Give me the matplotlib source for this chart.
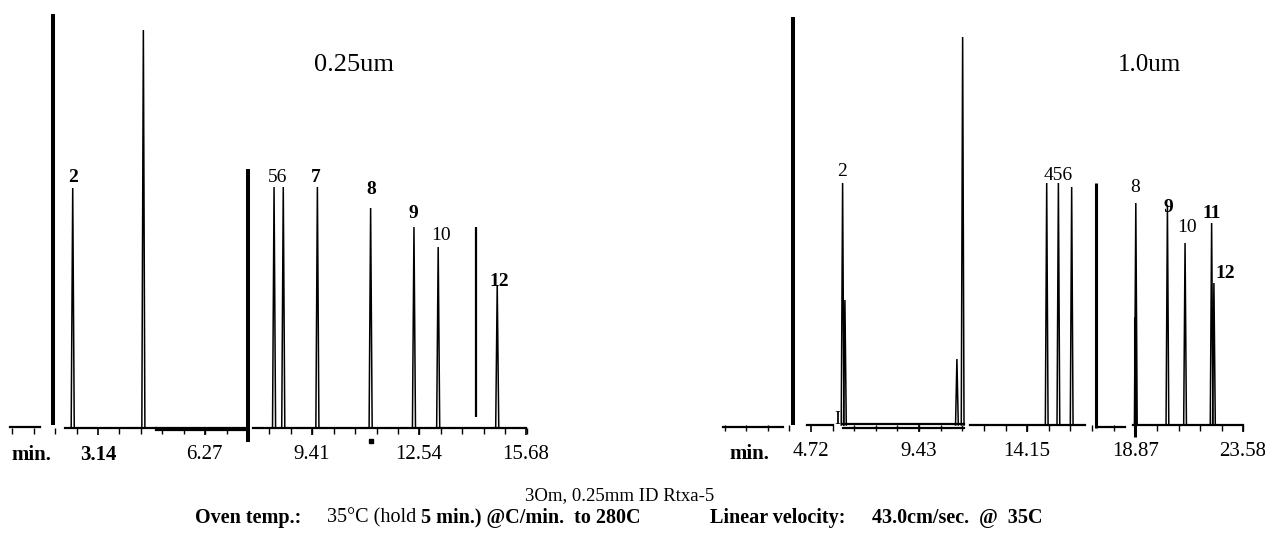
import matplotlib
matplotlib.use("Agg")
import matplotlib.pyplot as plt
import numpy as np

plt.rcParams["font.family"] = ["Liberation Serif", "DejaVu Serif"]

# ---------------------------------------------------------------------------
# DATA  (retention time in min, relative response)
# ---------------------------------------------------------------------------

# 0.25um film
L_PEAK_T = [2.40, 4.47, 8.30, 8.57, 9.57, 11.13, 12.40, 13.11, 14.84]
L_PEAK_H = [60.0, 99.5, 60.25, 60.25, 60.25, 55.0, 50.25, 45.25, 35.75]
L_LABELS = ["2", "56", "7", "8", "9", "10", "12"]
L_LABEL_T = [2.40, 8.41, 9.53, 11.16, 12.37, 13.18, 14.89]
L_LABEL_H = [62.75, 62.5, 62.75, 59.75, 53.75, 48.0, 36.5]
L_LABEL_BOLD = [True, False, True, True, True, False, True]
# event marks (time, bottom, top, width)
L_MARK_T = [1.82, 7.535, 14.23]
L_MARK_LO = [0.75, -3.4, 2.75]
L_MARK_HI = [103.5, 64.75, 50.25]
L_MARK_W = [2.9, 2.9, 1.6]
# baseline pieces (start, end, level)
L_BASE = [(0.56, 1.44, 0.3), (2.17, 4.84, 0.0), (4.84, 7.51, 0.0),
          (4.84, 7.51, -0.6), (7.68, 15.68, 0.0)]
L_TICKS = [3.14, 6.27, 9.41, 12.54, 15.68]

# 1.0um film
R_PEAK_T = [6.10, 6.20, 11.09, 11.34, 15.01, 15.52, 16.10, 18.90, 20.28,
            21.05, 22.21, 22.31]
R_PEAK_H = [60.5, 31.25, 16.5, 97.0, 60.5, 60.5, 59.5, 55.5, 55.0, 45.5,
            50.5, 35.5]
R_LABELS = ["2", "456", "8", "9", "10", "11", "12"]
R_LABEL_T = [6.06, 15.5, 18.87, 20.31, 21.14, 22.23, 22.79]
R_LABEL_H = [63.25, 62.5, 59.25, 54.25, 49.5, 53.0, 37.75]
R_LABEL_BOLD = [False, False, False, True, False, True, True]
R_MARK_T = [3.93, 17.16, 18.85]
R_MARK_LO = [0.0, -0.75, -3.0]
R_MARK_HI = [102.0, 60.5, 27.0]
R_MARK_W = [2.9, 2.2, 2.2]
R_BASE = [(0.88, 3.50, -0.5), (4.55, 5.68, 0.0), (6.10, 11.38, 0.25),
          (6.10, 11.38, -0.75), (11.67, 16.70, 0.0), (17.21, 18.43, -0.5),
          (18.78, 23.58, 0.0)]
R_TICKS = [4.72, 9.43, 14.15, 18.87, 23.58]

# footer groups: left pixel, [(text, bold), ...]
FOOT_GROUPS = [
    (195, [("Oven temp.:", True)]),
    (327, [("35°C (hold", False), ("5 min.) @C/min.  to 280C", True)]),
    (710, [("Linear velocity:", True)]),
    (872, [("43.0cm/sec.  @  35C", True)]),
]


def draw_panel(ax, peak_t, peak_h, labels, lab_t, lab_h, lab_bold,
               mark_t, mark_lo, mark_hi, mark_w, base, ticks, half_w):
    # peaks as narrow triangles
    for t, h in zip(peak_t, peak_h):
        ax.plot([t - half_w, t, t + half_w], [0, h, 0], color="black",
                lw=1.1, solid_joinstyle="miter", clip_on=False)
    # baseline pieces
    for t0, t1, y in base:
        ax.plot([t0, t1], [y, y], color="black", lw=1.6, clip_on=False)
    # event marks
    for t, lo, hi, w in zip(mark_t, mark_lo, mark_hi, mark_w):
        ax.plot([t, t], [lo, hi], color="black", lw=w, solid_capstyle="butt",
                clip_on=False)
    for s, t, h, b in zip(labels, lab_t, lab_h, lab_bold):
        ax.text(t, h, s, ha="center", va="center", fontsize=14,
                fontweight="bold" if b else "normal")

    major = ticks[0]
    ax.set_xticks(ticks)
    ax.set_xticklabels([f"{v:.2f}" for v in ticks])
    ax.set_xticks(np.arange(1, int(round(ticks[-1] / major * 5)) + 1) * major / 5,
                  minor=True)
    ax.tick_params(axis="x", which="major", direction="out", length=5,
                   width=1.2, pad=7, labelsize=15)
    ax.tick_params(axis="x", which="minor", direction="out", length=4,
                   width=1.0)
    ax.tick_params(axis="y", left=False, labelleft=False)
    for sp in ax.spines.values():
        sp.set_visible(False)
    ax.patch.set_alpha(0)


fig = plt.figure(figsize=(12.65, 5.34), dpi=100)
W, H = 1265, 534

# left panel: pixel 0..545, baseline at y=428 px
axl = fig.add_axes([0 / W, 106 / H, 545 / W, 428 / H])
axl.set_xlim(0.269, 16.24)
axl.set_ylim(0, 107)
draw_panel(axl, L_PEAK_T, L_PEAK_H, L_LABELS, L_LABEL_T, L_LABEL_H,
           L_LABEL_BOLD, L_MARK_T, L_MARK_LO, L_MARK_HI, L_MARK_W, L_BASE,
           L_TICKS, 0.045)
axl.get_xticklabels()[0].set_fontweight("bold")
axl.text(1.20, -6.8, "min.", ha="center", va="center", fontsize=15,
         fontweight="bold", clip_on=False)
axl.plot([11.13], [-3.2], marker="s", ms=2.2, color="black", clip_on=False)
axl.text(10.64, 90.75, "0.25um", ha="center", va="center", fontsize=19)

# right panel: pixel 700..1265, baseline at y=425 px
axr = fig.add_axes([700 / W, 109 / H, 565 / W, 425 / H])
axr.set_xlim(-0.126, 24.54)
axr.set_ylim(0, 106.25)
draw_panel(axr, R_PEAK_T, R_PEAK_H, R_LABELS, R_LABEL_T, R_LABEL_H,
           R_LABEL_BOLD, R_MARK_T, R_MARK_LO, R_MARK_HI, R_MARK_W, R_BASE,
           R_TICKS, 0.06)
axr.text(2.01, -7.2, "min.", ha="center", va="center", fontsize=15,
         fontweight="bold", clip_on=False)
axr.text(5.86, 1.5, "I", ha="center", va="center", fontsize=13)
axr.text(19.48, 90.0, "1.0um", ha="center", va="center", fontsize=18)

# footer
fig.text(620 / W, 1 - 496 / H, "3Om, 0.25mm ID Rtxa-5", ha="center",
         va="center", fontsize=13.5)
renderer = fig.canvas.get_renderer()
y2 = 1 - 518 / H
for px, pieces in FOOT_GROUPS:
    x = px
    for s, bold in pieces:
        t = fig.text(x / W, y2, s, ha="left", va="center", fontsize=14.5,
                     fontweight="bold" if bold else "normal")
        x += t.get_window_extent(renderer).width + 5

fig.savefig("out.png", dpi=100, facecolor="white")
